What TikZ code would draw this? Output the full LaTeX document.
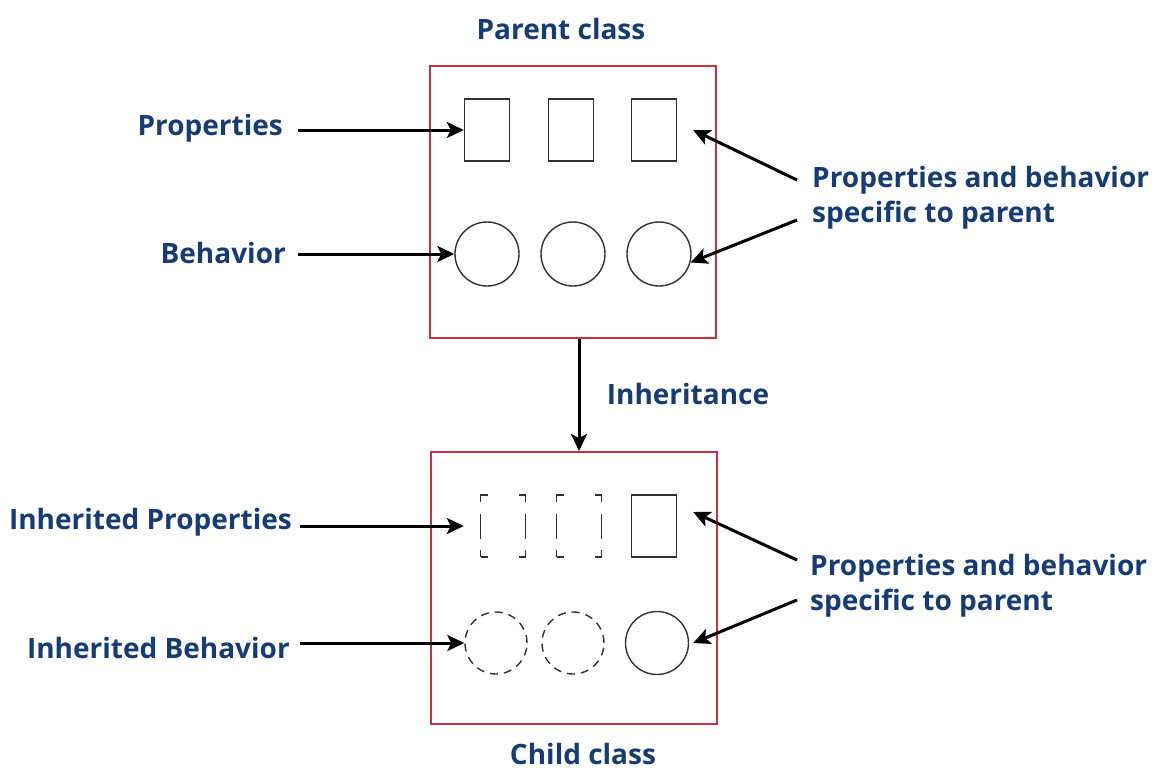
\documentclass[tikz,border=0pt]{standalone}
\usepackage{fontspec}
\setmainfont{Open Sans}
\usetikzlibrary{arrows.meta}
\definecolor{txtblue}{RGB}{22,60,118}
\definecolor{boxred}{RGB}{204,48,58}
\definecolor{shapegray}{RGB}{50,50,50}
\tikzset{
  lbl/.style={text=txtblue, font=\fontsize{28}{35}\selectfont\bfseries, inner sep=0pt},
  classbox/.style={draw=boxred, line width=2pt, minimum width=286pt, minimum height=272pt, inner sep=0pt},
  prop/.style={draw=shapegray, line width=1.4pt, minimum width=45pt, minimum height=62pt, inner sep=0pt},
  behav/.style={draw=shapegray, line width=1.4pt, circle, minimum size=64pt, inner sep=0pt},
  inhprop/.style={prop, dash pattern=on 14pt off 31pt on 14pt off 11.5pt on 25pt off 11.5pt, dash phase=7pt},
  inhbehav/.style={behav, dash pattern=on 8pt off 6pt},
  arr/.style={draw=black, line width=3pt, -{Stealth[length=17pt, width=16pt, inset=4pt]}},
}
\begin{document}
\begin{tikzpicture}[x=1pt, y=-1pt]
\useasboundingbox (0,0) rectangle (1153,771);
% class boxes
\node[classbox] (parent) at (573,202) {};
\node[classbox] (child) at (574,588) {};
% titles
\node[lbl] (ptitle) at (561,29) {Parent class};
\node[lbl] (ctitle) at (583,754) {Child class};
% parent shapes
\node[prop] (r1) at (487,130) {};
\node[prop] (r2) at (571,130) {};
\node[prop] (r3) at (654,130) {};
\node[behav] (c1) at (487,254) {};
\node[behav] (c2) at (573,254) {};
\node[behav] (c3) at (659,254) {};
% child shapes
\node[inhprop] (r4) at (503,526) {};
\node[inhprop] (r5) at (579,526) {};
\node[prop] (r6) at (654,526) {};
\node[inhbehav, minimum size=62pt] (c4) at (496,643) {};
\node[inhbehav, minimum size=62pt] (c5) at (573,643) {};
\node[behav, minimum size=63pt] (c6) at (657,643) {};
% left labels
\node[lbl, anchor=east] (lprop) at (283,128) {Properties};
\node[lbl, anchor=east] (lbeh) at (286,253) {Behavior};
\node[lbl, anchor=east] (liprop) at (292,522) {Inherited Properties};
\node[lbl, anchor=east] (libeh) at (290,648) {Inherited Behavior};
% right labels
\node[lbl, anchor=west, align=left] (spec1) at (812,198) {Properties and behavior\\specific to parent};
\node[lbl, anchor=west, align=left] (spec2) at (810,586) {Properties and behavior\\specific to parent};
% inheritance label
\node[lbl] (inh) at (688,394) {Inheritance};
% named starts
\coordinate (s1) at (797,180);
\coordinate (s2) at (797,220);
\coordinate (s3) at (797,560);
\coordinate (s4) at (797,600);
% arrows
\draw[arr] ([xshift=15pt]lprop.east |- r1.west) -- (r1.west);
\draw[arr] ([xshift=12pt]lbeh.east |- c1.west) -- (c1.west);
\draw[arr] ([xshift=8pt]liprop.east |- r4.west) -- ([xshift=-16pt]r4.west);
\draw[arr] ([xshift=10pt]libeh.east |- c4.west) -- (c4.west);
\draw[arr] (s1) -- ([xshift=16pt]r3.east);
\draw[arr] (s2) -- (c3.-15);
\draw[arr] (s3) -- ([shift={(16pt,14pt)}]r6.east);
\draw[arr] (s4) -- ([xshift=4pt]c6.east);
\draw[arr] (parent.south -| 579,0) -- (child.north -| 579,0);
\end{tikzpicture}
\end{document}
